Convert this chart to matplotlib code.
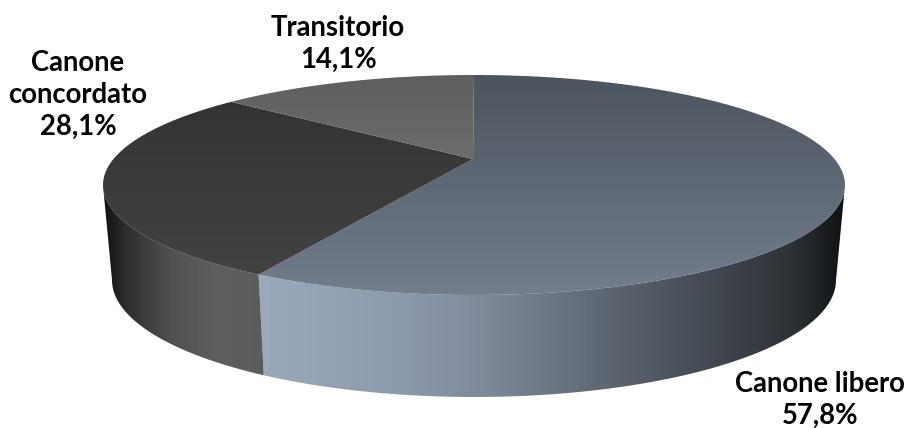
import numpy as np
import matplotlib
matplotlib.use('Agg')
import matplotlib.pyplot as plt
from matplotlib.colors import LinearSegmentedColormap
from matplotlib.patches import Polygon

# Data
labels = ['Canone libero', 'Canone\nconcordato', 'Transitorio']
values = [57.8, 28.1, 14.1]
value_labels = ['57,8%', '28,1%', '14,1%']
label_pos = [(820, 400), (78, 95), (338, 44)]

# Colours: top face (y1, c1, y2, c2), side stops (x, colour)
top_colors = [(70, '#4b535d', 300, '#737f8d'),
              (95, '#333333', 285, '#434343'),
              (70, '#5e5e5e', 165, '#6d6d6d')]
side_colors = [[(240, '#9dabbe'), (400, '#8d9aac'), (480, '#7f8b9b'), (600, '#5f6874'),
                (700, '#454c55'), (790, '#2f3338'), (825, '#1c1f22'), (850, '#0b0d0f')],
               [(100, '#0e0e0e'), (125, '#2c2c2c'), (170, '#505050'), (215, '#5e5e5e'), (290, '#5a5a5a')],
               [(232, '#5a5a5a'), (233, '#5a5a5a')]]

# Pie geometry in picture pixels
cx, cy, rx, ry = 474, 185, 371, 110
bx, by, brx, bry = 474, 280, 362, 117
apex = (473, 159)


def warp(deg):
    # perspective of the 3D view shifts the slice angles
    r = np.radians(deg)
    return deg - 14 * np.sin(r) + np.sin(2 * r)


def top_pt(t):
    t = np.radians(t)
    return np.c_[cx + rx * np.sin(t), cy - ry * np.cos(t)]


def bot_pt(t):
    t = np.radians(t)
    return np.c_[bx + brx * np.sin(t), by - bry * np.cos(t)]


fig = plt.figure(figsize=(9.07, 4.28), dpi=100)
ax = fig.add_axes([0, 0, 1, 1])
ax.set_xlim(0, 907)
ax.set_ylim(428, 0)
ax.axis('off')

edges = np.cumsum([0] + values) / sum(values) * 360

# Sides first
for i in range(len(values)):
    t1, t2 = warp(edges[i]), warp(edges[i + 1])
    a, b = max(t1, 90), min(t2, 270)
    if a >= b:
        continue
    ts = np.linspace(a, b, 150)
    poly = Polygon(np.vstack([top_pt(ts), bot_pt(ts[::-1])]), closed=True, fc='none', ec='none')
    ax.add_patch(poly)
    stops = side_colors[i]
    x0, x1 = stops[0][0], stops[-1][0]
    cmap = LinearSegmentedColormap.from_list('s%d' % i, [((x - x0) / (x1 - x0), c) for x, c in stops])
    im = ax.imshow(np.linspace(0, 1, 256)[None, :], cmap=cmap, extent=[x0, x1, 410, 170], aspect='auto')
    im.set_clip_path(poly)

# Top faces
for i in range(len(values)):
    ts = np.linspace(warp(edges[i]), warp(edges[i + 1]), 200)
    poly = Polygon(np.vstack([[apex], top_pt(ts)]), closed=True, fc='none', ec='none')
    ax.add_patch(poly)
    y1, c1, y2, c2 = top_colors[i]
    cmap = LinearSegmentedColormap.from_list('t%d' % i, [c1, c2])
    im = ax.imshow(np.linspace(0, 1, 256)[:, None], cmap=cmap, extent=[90, 860, y2, y1], aspect='auto')
    im.set_clip_path(poly)

ax.set_xlim(0, 907)
ax.set_ylim(428, 0)

# Labels
for lab, val, pos in zip(labels, value_labels, label_pos):
    ax.text(pos[0], pos[1], lab + '\n' + val, ha='center', va='center', fontsize=19.8,
            fontweight='bold', family='Lato', color='black', linespacing=1.3)

fig.savefig('out.png', dpi=100)
